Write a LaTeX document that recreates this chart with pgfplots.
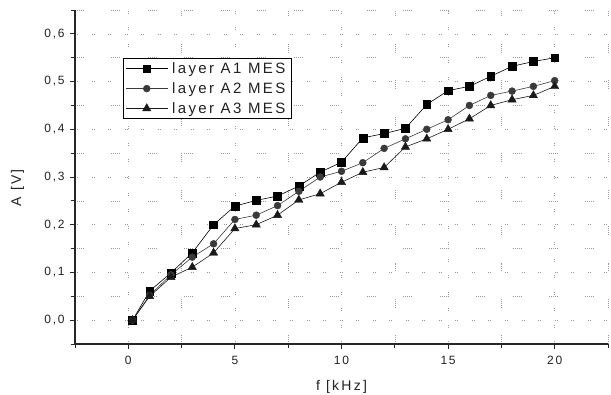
\documentclass[border=0pt]{standalone}
\usepackage{pgfplots}
\pgfplotsset{compat=1.18}
\usepackage{fontspec}
\setmainfont{Liberation Sans}
\newfontfamily\tickfont[LetterSpace=14]{Liberation Sans}
\newfontfamily\labfont[LetterSpace=16]{Liberation Sans}
\definecolor{ticktext}{HTML}{222222}
\definecolor{gridc}{HTML}{9A9A9A}
\definecolor{seriesB}{HTML}{3A3A3A}
\begin{document}
\begin{tikzpicture}
\useasboundingbox (0,0) rectangle (611bp,395bp);
\begin{axis}[
  at={(75bp,51bp)}, anchor=south west,
  scale only axis, width=533bp, height=334bp,
  xmin=-2.5, xmax=22.5, ymin=-0.05, ymax=0.65,
  axis x line*=bottom, axis y line*=left,
  axis line style={line width=1.1pt, black!85},
  xtick={0,5,10,15,20}, ytick={0,0.1,0.2,0.3,0.4,0.5,0.6},
  minor xtick={-2.5,2.5,7.5,12.5,17.5,22.5},
  minor ytick={-0.05,0.05,0.15,0.25,0.35,0.45,0.55,0.65},
  tick align=outside,
  major tick length=5bp, minor tick length=4bp,
  tick style={line width=1pt, black!85},
  grid=both,
  major grid style={gridc, line width=0.6pt, dash pattern=on 0.6pt off 1.4pt on 0.6pt off 14pt},
  minor grid style={gridc, line width=0.6pt, dash pattern=on 0.6pt off 1.4pt on 0.6pt off 1.4pt on 0.6pt off 1.4pt on 0.6pt off 1.4pt on 0.6pt off 28pt},
  /pgf/number format/assume math mode=true,
  ticklabel style={font=\tickfont\fontsize{12bp}{14bp}\selectfont, text=ticktext},
  yticklabel style={xshift=-2bp, /pgf/number format/.cd, use comma, fixed, fixed zerofill, precision=1},
  xticklabel style={yshift=-4bp, /pgf/number format/.cd, fixed, precision=0},
  xlabel={f [kHz]}, ylabel={A [V]},
  label style={font=\labfont\fontsize{14bp}{16bp}\selectfont, text=ticktext},
  xlabel style={at={(axis description cs:0.5,-0.129)}, anchor=center},
  ylabel style={at={(axis description cs:-0.108,0.468)}, anchor=center},
  legend style={at={(0.09,0.856)}, anchor=north west, draw=black, line width=1pt,
    font=\labfont\fontsize{15bp}{17bp}\selectfont, text=ticktext,
    inner xsep=2bp, inner ysep=2bp, row sep=3.5bp,
    nodes={inner xsep=4bp}},
  legend cell align=left,
  legend image code/.code={\draw[mark repeat=2,mark phase=2] plot coordinates {(0bp,0bp) (21bp,0bp) (42bp,0bp)};},
]
\addplot[black, line width=0.6pt, mark=square*, mark size=3.9pt, mark options={solid, line width=0.4pt}] coordinates {
(0.2,0) (1,0.061) (2,0.099) (3,0.141) (4,0.200) (5,0.239) (6,0.251) (7,0.260) (8,0.281) (9,0.310) (10,0.331)
(11,0.382) (12,0.391) (13,0.402) (14,0.452) (15,0.481) (16,0.490) (17,0.511) (18,0.532) (19,0.542) (20,0.550)};
\addlegendentry{layer A1 MES}
\addplot[seriesB, line width=0.6pt, mark=*, mark size=3.5pt, mark options={solid, line width=0.4pt}] coordinates {
(0.2,0) (1,0.052) (2,0.095) (3,0.132) (4,0.160) (5,0.211) (6,0.220) (7,0.240) (8,0.270) (9,0.300) (10,0.312)
(11,0.330) (12,0.360) (13,0.380) (14,0.400) (15,0.420) (16,0.450) (17,0.471) (18,0.480) (19,0.490) (20,0.502)};
\addlegendentry{layer A2 MES}
\addplot[black!90, line width=0.6pt, mark=triangle*, mark size=4.8pt, mark options={solid, line width=0.4pt}] coordinates {
(0.2,0) (1,0.050) (2,0.090) (3,0.111) (4,0.141) (5,0.192) (6,0.200) (7,0.220) (8,0.252) (9,0.265) (10,0.289)
(11,0.310) (12,0.320) (13,0.363) (14,0.380) (15,0.400) (16,0.422) (17,0.450) (18,0.462) (19,0.471) (20,0.490)};
\addlegendentry{layer A3 MES}
\end{axis}
\end{tikzpicture}
\end{document}
